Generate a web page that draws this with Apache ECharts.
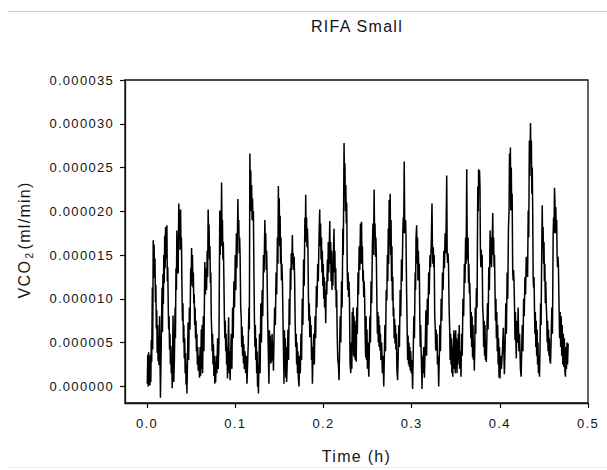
<!DOCTYPE html>
<html>
<head>
<meta charset="utf-8">
<script src="https://cdn.jsdelivr.net/npm/echarts@6/dist/echarts.min.js"></script>
<style>
html,body{margin:0;padding:0;background:#fff;}
#chart{width:607px;height:470px;}
#chart svg text{letter-spacing:1.3px;white-space:pre;}
</style>
</head>
<body>
<div id="chart"></div>
<script>
const chartTitle = 'RIFA Small';
const xName = 'Time (h)';
const xTicks = [0, 0.1, 0.2, 0.3, 0.4, 0.5];
const yTicks = [0, 0.000005, 0.000010, 0.000015, 0.000020, 0.000025, 0.000030, 0.000035];
// [time (h), VCO2 in nl/min (= 1e-6 ml/min)]
const vco2Points = [
[0.0003,0.3],[0.0008,3.6],[0.0013,0.0],[0.0018,3.9],[0.0023,0.2],[0.0028,3.3],[0.0033,0.1],[0.0038,3.6],[0.0043,0.5],[0.0048,5.3],[0.0053,2.8],
[0.0060,11.3],[0.0064,4.2],[0.0070,16.7],[0.0075,13.0],[0.0080,16.2],[0.0085,12.4],[0.0090,14.6],[0.0095,9.6],[0.0100,11.6],[0.0105,6.6],[0.0110,8.7],[0.0115,3.8],[0.0120,7.0],[0.0125,2.9],[0.0130,5.6],[0.0135,2.4],[0.0142,8.0],[0.0152,-1.3],[0.0160,4.2],
[0.0170,11.3],[0.0175,6.2],[0.0180,12.8],[0.0185,9.4],[0.0190,15.0],[0.0195,11.8],[0.0200,17.2],[0.0205,13.5],[0.0210,18.2],[0.0215,14.6],[0.0220,17.0],[0.0225,18.4],[0.0230,12.0],[0.0235,13.6],[0.0240,9.5],[0.0245,6.5],[0.0250,8.0],[0.0255,4.2],[0.0260,6.0],[0.0265,2.5],[0.0270,4.6],[0.0275,1.5],[0.0280,3.0],[0.0285,-0.2],[0.0295,8.1],[0.0303,0.5],[0.0310,3.0],
[0.0318,9.0],[0.0322,5.5],[0.0328,13.5],[0.0333,11.0],[0.0338,17.8],[0.0343,13.0],[0.0348,16.5],[0.0353,12.9],[0.0360,20.9],[0.0365,17.8],[0.0370,20.0],[0.0375,15.6],[0.0380,20.2],[0.0385,16.0],[0.0390,17.0],[0.0395,12.0],[0.0401,7.5],[0.0407,9.5],[0.0412,5.0],[0.0417,7.0],[0.0422,3.2],[0.0427,5.5],[0.0432,1.5],[0.0437,3.8],[0.0442,0.2],[0.0447,2.5],[0.0452,-0.8],[0.0457,1.8],
[0.0465,7.3],[0.0472,3.0],[0.0480,9.0],[0.0487,6.5],[0.0495,13.5],[0.0500,11.5],[0.0505,15.8],[0.0510,12.0],[0.0515,15.0],[0.0520,11.3],[0.0525,13.0],[0.0530,9.5],[0.0535,10.5],[0.0540,7.0],[0.0545,9.0],[0.0550,5.5],[0.0555,7.5],[0.0560,4.0],[0.0565,6.0],[0.0570,2.5],[0.0575,4.5],[0.0580,1.8],[0.0587,3.5],[0.0595,1.0],[0.0602,4.5],[0.0608,1.2],
[0.0615,6.5],[0.0620,2.0],[0.0625,7.0],[0.0630,1.5],[0.0638,8.0],[0.0645,4.0],[0.0655,14.2],[0.0662,10.5],[0.0668,13.5],[0.0675,11.0],[0.0682,15.5],[0.0687,12.5],[0.0693,20.2],[0.0698,17.5],[0.0703,18.5],[0.0708,14.5],[0.0713,16.0],[0.0718,11.8],[0.0723,13.0],[0.0728,8.0],[0.0733,6.4],[0.0738,4.0],[0.0743,6.0],[0.0748,2.5],[0.0753,4.8],[0.0758,1.2],[0.0763,3.5],[0.0768,0.3],[0.0773,2.8],[0.0778,0.5],[0.0785,3.5],
[0.0792,1.5],[0.0800,5.5],[0.0807,2.0],[0.0815,4.9],[0.0825,20.1],[0.0830,15.0],[0.0835,19.5],[0.0840,16.0],[0.0845,23.3],[0.0850,18.0],[0.0855,19.0],[0.0860,14.5],[0.0865,16.5],[0.0870,13.3],[0.0877,7.9],[0.0882,5.5],[0.0887,7.5],[0.0892,4.0],[0.0897,6.0],[0.0902,2.5],[0.0907,4.5],[0.0912,0.9],[0.0917,3.5],[0.0925,7.9],[0.0932,1.5],[0.0937,4.0],[0.0942,0.7],[0.0947,3.0],
[0.0955,6.0],[0.0962,2.0],[0.0970,9.0],[0.0977,5.5],[0.0985,12.0],[0.0992,9.0],[0.1000,15.0],[0.1007,11.0],[0.1013,17.5],[0.1018,13.5],[0.1023,16.0],[0.1030,21.4],[0.1035,17.5],[0.1040,19.0],[0.1045,15.2],[0.1050,17.0],[0.1055,15.0],[0.1062,9.0],[0.1068,7.9],[0.1073,4.5],[0.1078,6.8],[0.1083,3.5],[0.1088,5.8],[0.1093,2.6],[0.1098,4.8],[0.1103,2.0],[0.1110,4.0],[0.1118,1.5],[0.1125,3.5],[0.1133,0.3],[0.1140,2.5],
[0.1148,5.0],[0.1155,9.0],[0.1160,6.5],[0.1166,26.6],[0.1171,22.0],[0.1176,24.7],[0.1181,20.0],[0.1186,23.0],[0.1191,19.0],[0.1196,21.5],[0.1201,18.9],[0.1206,20.0],[0.1212,13.0],[0.1218,7.5],[0.1223,4.5],[0.1228,7.0],[0.1233,3.0],[0.1238,5.5],[0.1243,1.5],[0.1248,4.0],[0.1253,0.0],[0.1258,2.5],[0.1263,-0.8],[0.1268,2.0],
[0.1275,6.0],[0.1282,1.5],[0.1290,9.5],[0.1297,5.0],[0.1305,11.0],[0.1312,8.0],[0.1320,15.0],[0.1327,13.0],[0.1336,19.0],[0.1341,15.5],[0.1346,17.5],[0.1351,13.3],[0.1356,15.5],[0.1361,13.0],[0.1368,7.5],[0.1375,4.0],[0.1382,0.3],[0.1388,6.4],[0.1393,3.0],[0.1398,5.8],[0.1403,2.6],[0.1408,5.0],[0.1413,2.8],[0.1418,6.0],[0.1423,3.0],[0.1428,5.0],[0.1433,1.8],
[0.1440,5.5],[0.1447,9.0],[0.1455,7.0],[0.1463,13.0],[0.1470,10.5],[0.1478,17.0],[0.1484,14.0],[0.1489,22.9],[0.1494,18.0],[0.1499,21.5],[0.1504,16.0],[0.1509,19.5],[0.1514,14.0],[0.1519,17.0],[0.1524,12.1],[0.1529,14.0],[0.1535,12.0],[0.1542,7.2],[0.1548,3.5],[0.1553,0.3],[0.1558,6.4],[0.1563,2.5],[0.1568,5.5],[0.1573,1.0],[0.1578,4.5],[0.1583,0.5],[0.1590,3.0],
[0.1598,6.5],[0.1605,3.0],[0.1612,10.0],[0.1618,7.0],[0.1625,13.5],[0.1630,11.0],[0.1635,15.2],[0.1640,13.3],[0.1648,17.3],[0.1653,14.0],[0.1658,15.2],[0.1663,13.3],[0.1668,14.8],[0.1673,12.5],[0.1680,7.0],[0.1686,4.5],[0.1691,6.0],[0.1696,2.5],[0.1701,5.0],[0.1706,1.5],[0.1711,4.0],[0.1716,1.0],[0.1723,0.0],[0.1730,3.5],
[0.1738,1.5],[0.1745,6.0],[0.1752,3.0],[0.1760,10.0],[0.1767,7.0],[0.1775,14.5],[0.1782,11.5],[0.1790,19.3],[0.1795,16.5],[0.1799,21.9],[0.1804,17.0],[0.1809,19.3],[0.1814,15.9],[0.1819,18.0],[0.1824,15.9],[0.1830,10.2],[0.1835,7.5],[0.1840,9.5],[0.1845,5.6],[0.1850,8.0],[0.1855,5.6],[0.1860,7.0],[0.1865,3.0],[0.1870,4.5],[0.1875,0.3],[0.1882,3.5],
[0.1890,6.0],[0.1897,2.5],[0.1905,8.0],[0.1912,5.5],[0.1920,11.5],[0.1927,9.0],[0.1935,14.0],[0.1942,12.0],[0.1950,17.0],[0.1958,20.2],[0.1963,16.0],[0.1968,18.6],[0.1973,14.5],[0.1978,17.0],[0.1983,13.0],[0.1988,15.5],[0.1993,11.5],[0.1998,14.0],[0.2003,10.0],[0.2008,12.5],[0.2013,9.0],[0.2020,11.0],[0.2026,7.2],[0.2032,12.0],
[0.2038,10.5],[0.2045,14.5],[0.2050,12.0],[0.2055,16.5],[0.2060,13.0],[0.2066,15.9],[0.2072,18.9],[0.2077,14.0],[0.2082,16.5],[0.2087,12.0],[0.2092,15.5],[0.2097,11.0],[0.2102,14.0],[0.2107,11.5],[0.2112,15.0],[0.2120,18.0],[0.2125,13.0],[0.2130,15.5],[0.2135,11.0],[0.2140,13.5],[0.2145,9.0],[0.2150,11.0],[0.2156,6.0],[0.2163,3.0],[0.2170,2.5],[0.2177,0.7],[0.2183,4.0],
[0.2190,8.0],[0.2197,5.0],[0.2205,12.0],[0.2212,9.0],[0.2220,18.0],[0.2225,15.0],[0.2234,27.8],[0.2239,23.0],[0.2244,25.5],[0.2249,20.0],[0.2254,23.0],[0.2259,18.6],[0.2264,21.0],[0.2270,13.3],[0.2275,11.0],[0.2280,13.0],[0.2285,10.2],[0.2290,12.0],[0.2295,10.2],[0.2302,2.6],[0.2310,1.5],[0.2316,5.0],
[0.2322,2.0],[0.2327,8.5],[0.2332,4.0],[0.2337,9.0],[0.2342,3.5],[0.2347,8.0],[0.2352,3.3],[0.2357,7.5],[0.2362,3.0],[0.2367,7.0],[0.2372,2.8],[0.2378,9.0],[0.2385,6.0],[0.2392,13.0],[0.2398,10.5],[0.2405,16.0],[0.2412,13.3],[0.2420,18.6],[0.2426,14.0],[0.2432,18.8],[0.2437,14.0],[0.2442,16.0],[0.2447,12.0],[0.2452,13.3],[0.2457,10.2],[0.2462,12.0],[0.2467,10.2],[0.2473,6.0],[0.2479,3.3],[0.2484,8.0],[0.2489,3.0],[0.2494,6.5],[0.2499,2.0],[0.2504,5.0],[0.2509,2.5],[0.2515,1.1],[0.2520,4.0],
[0.2527,8.0],[0.2533,5.0],[0.2540,12.0],[0.2547,9.5],[0.2555,16.0],[0.2562,18.6],[0.2568,15.0],[0.2575,22.5],[0.2580,17.0],[0.2585,18.6],[0.2590,14.8],[0.2595,17.0],[0.2600,14.8],[0.2607,9.0],[0.2612,6.0],[0.2617,8.5],[0.2622,5.0],[0.2627,8.0],[0.2632,4.5],[0.2637,7.0],[0.2642,4.1],[0.2647,6.0],[0.2652,3.0],[0.2660,5.0],[0.2668,1.5],[0.2676,3.5],[0.2684,0.0],[0.2690,3.0],
[0.2697,7.0],[0.2704,4.0],[0.2712,11.0],[0.2719,9.8],[0.2725,15.0],[0.2730,12.0],[0.2735,18.0],[0.2740,14.0],[0.2745,21.3],[0.2750,16.0],[0.2757,22.0],[0.2762,15.0],[0.2767,19.0],[0.2772,12.0],[0.2777,16.0],[0.2782,9.8],[0.2787,12.5],[0.2792,8.0],[0.2797,9.0],[0.2802,5.5],[0.2807,7.7],[0.2812,4.9],[0.2817,7.0],[0.2822,4.2],[0.2827,6.0],[0.2833,2.0],[0.2841,0.7],[0.2848,3.5],
[0.2855,7.0],[0.2862,4.5],[0.2870,11.0],[0.2877,8.0],[0.2885,14.5],[0.2892,12.0],[0.2900,17.5],[0.2905,19.3],[0.2910,17.5],[0.2916,25.7],[0.2921,19.3],[0.2926,17.5],[0.2931,19.0],[0.2936,17.3],[0.2943,11.0],[0.2950,6.1],[0.2955,3.0],[0.2960,5.8],[0.2965,2.5],[0.2970,5.0],[0.2975,2.2],[0.2980,4.5],[0.2985,1.8],[0.2990,4.0],[0.2997,1.5],[0.3004,3.0],[0.3011,-0.3],[0.3017,3.0],
[0.3025,8.0],[0.3032,5.5],[0.3040,13.0],[0.3045,11.0],[0.3050,17.0],[0.3057,18.4],[0.3062,14.0],[0.3067,17.0],[0.3072,12.1],[0.3077,15.5],[0.3082,12.1],[0.3087,14.0],[0.3093,7.5],[0.3098,4.5],[0.3103,7.0],[0.3108,4.1],[0.3113,2.0],[0.3118,-0.3],[0.3123,3.5],
[0.3130,1.5],[0.3137,4.5],[0.3145,1.0],[0.3155,5.0],[0.3162,8.7],[0.3170,3.5],[0.3178,10.0],[0.3185,7.0],[0.3193,13.0],[0.3200,10.5],[0.3208,15.0],[0.3215,13.6],[0.3223,16.5],[0.3231,20.9],[0.3236,15.9],[0.3241,14.0],[0.3246,15.9],[0.3251,13.6],[0.3256,15.0],[0.3262,8.0],[0.3268,6.7],[0.3273,4.1],[0.3278,6.5],[0.3283,4.1],[0.3288,6.0],[0.3293,2.5],[0.3300,3.5],[0.3307,0.0],[0.3313,3.0],
[0.3320,7.0],[0.3327,4.0],[0.3335,10.0],[0.3342,7.5],[0.3350,13.0],[0.3357,11.0],[0.3365,15.5],[0.3372,13.5],[0.3380,17.5],[0.3388,15.2],[0.3398,24.1],[0.3403,15.2],[0.3408,14.1],[0.3413,15.2],[0.3418,14.1],[0.3425,9.0],[0.3432,6.4],[0.3437,3.0],[0.3442,6.0],[0.3447,2.5],[0.3452,5.5],[0.3457,1.5],[0.3462,4.5],[0.3467,1.1],[0.3472,4.0],
[0.3480,6.4],[0.3485,2.0],[0.3490,6.0],[0.3495,1.5],[0.3500,6.4],[0.3505,2.0],[0.3510,5.5],[0.3515,1.5],[0.3520,5.0],[0.3525,2.5],[0.3530,6.0],[0.3535,3.0],[0.3540,7.0],[0.3545,2.0],[0.3552,4.0],[0.3560,1.1],
[0.3567,6.0],[0.3574,3.5],[0.3582,10.0],[0.3590,8.0],[0.3598,14.0],[0.3605,11.8],[0.3612,17.0],[0.3618,14.0],[0.3625,24.8],[0.3630,17.0],[0.3635,14.5],[0.3640,17.0],[0.3645,11.8],[0.3650,14.0],[0.3655,10.6],[0.3660,11.8],[0.3666,8.7],[0.3671,5.5],[0.3676,8.5],[0.3681,4.5],[0.3686,8.0],[0.3691,3.3],[0.3696,7.0],[0.3701,3.0],[0.3706,5.0],[0.3711,1.8],[0.3716,4.5],
[0.3722,9.0],[0.3728,6.0],[0.3735,11.2],[0.3742,9.0],[0.3750,22.8],[0.3755,20.0],[0.3760,24.8],[0.3765,22.8],[0.3770,24.7],[0.3775,22.8],[0.3780,15.6],[0.3785,13.6],[0.3790,15.6],[0.3795,13.6],[0.3800,15.0],[0.3806,9.0],[0.3812,7.9],[0.3817,4.5],[0.3822,7.5],[0.3827,3.5],[0.3832,7.0],[0.3837,3.0],[0.3842,5.0],[0.3847,2.8],[0.3853,5.5],
[0.3860,9.5],[0.3867,6.5],[0.3875,13.6],[0.3882,11.0],[0.3890,17.8],[0.3895,14.0],[0.3900,17.0],[0.3905,13.6],[0.3912,16.0],[0.3920,19.8],[0.3925,15.0],[0.3930,17.0],[0.3935,13.6],[0.3940,15.0],[0.3946,10.6],[0.3951,7.5],[0.3956,10.0],[0.3961,5.5],[0.3966,8.5],[0.3971,4.0],[0.3976,7.0],[0.3981,2.5],[0.3986,5.5],[0.3991,1.0],[0.3996,4.5],[0.4002,0.9],[0.4008,3.5],[0.4018,2.0],[0.4030,4.0],[0.4040,6.7],[0.4052,1.4],[0.4060,4.5],
[0.4068,9.5],[0.4075,6.0],[0.4083,13.0],[0.4090,10.0],[0.4098,18.0],[0.4105,20.1],[0.4110,26.6],[0.4115,22.0],[0.4120,27.3],[0.4125,20.1],[0.4130,25.0],[0.4135,20.1],[0.4140,22.0],[0.4146,13.3],[0.4151,12.1],[0.4156,13.3],[0.4161,12.1],[0.4167,9.0],[0.4172,5.3],[0.4177,8.5],[0.4182,5.3],[0.4187,3.2],[0.4192,7.5],[0.4200,5.0],[0.4208,9.0],[0.4216,4.0],[0.4224,6.0],[0.4234,2.0],[0.4242,1.1],[0.4248,4.0],
[0.4255,7.0],[0.4262,4.0],[0.4270,10.0],[0.4277,8.0],[0.4285,12.5],[0.4292,10.5],[0.4300,14.8],[0.4305,12.5],[0.4310,14.8],[0.4315,12.5],[0.4322,20.1],[0.4328,17.0],[0.4335,28.1],[0.4340,24.0],[0.4348,30.1],[0.4353,26.0],[0.4358,28.1],[0.4363,22.0],[0.4368,25.0],[0.4373,20.1],[0.4378,12.5],[0.4383,11.3],[0.4388,12.5],[0.4393,9.0],[0.4398,6.0],[0.4403,8.5],[0.4408,4.5],[0.4413,7.5],[0.4418,3.5],[0.4423,6.5],[0.4428,2.5],[0.4433,5.0],[0.4438,1.5],[0.4444,3.5],[0.4450,1.1],[0.4456,4.5],
[0.4462,9.5],[0.4468,7.0],[0.4474,14.0],[0.4481,20.7],[0.4486,16.0],[0.4491,18.2],[0.4496,14.0],[0.4501,16.5],[0.4506,12.0],[0.4511,14.0],[0.4516,9.5],[0.4521,12.0],[0.4526,9.5],[0.4532,8.0],[0.4537,5.0],[0.4542,7.5],[0.4547,4.0],[0.4552,6.5],[0.4557,3.5],[0.4562,5.5],[0.4568,3.0],[0.4575,2.6],[0.4581,5.0],
[0.4590,9.0],[0.4597,6.0],[0.4605,17.5],[0.4610,19.3],[0.4615,17.5],[0.4620,22.7],[0.4625,21.3],[0.4630,17.5],[0.4635,20.5],[0.4640,17.5],[0.4645,19.0],[0.4650,14.8],[0.4655,13.6],[0.4660,14.8],[0.4665,13.6],[0.4672,9.0],[0.4678,5.5],[0.4684,8.5],[0.4690,4.5],[0.4696,8.0],[0.4702,3.5],[0.4708,7.0],[0.4714,2.5],[0.4720,6.0],[0.4726,2.2],[0.4732,5.5],[0.4738,1.8],[0.4744,1.1],[0.4750,4.5],[0.4756,2.0],[0.4762,5.0],[0.4768,2.5],[0.4775,4.9]
];

// convert nl/min to ml/min for the axis
const seriesData = vco2Points.map(p => [p[0], p[1] * 1e-6]);

const FONT = '"Liberation Sans", Arial, sans-serif';
const TXT = '#141414';

const chart = echarts.init(document.getElementById('chart'), null, {renderer: 'svg'});
chart.setOption({
  animation: false,
  backgroundColor: '#ffffff',
  title: {
    text: chartTitle,
    left: 352,
    textAlign: 'center',
    top: 13,
    textStyle: {fontFamily: FONT, fontSize: 16, fontWeight: 'normal', color: TXT}
  },
  graphic: [
    {type: 'line', silent: true, shape: {x1: 8, y1: 11.5, x2: 607, y2: 11.5}, style: {stroke: '#cccccc', lineWidth: 1}},
    {type: 'line', silent: true, shape: {x1: 8, y1: 467.5, x2: 607, y2: 467.5}, style: {stroke: '#eeeeee', lineWidth: 1}}
  ],
  grid: {
    left: 125, right: 19, top: 80, bottom: 67,
    show: true, borderColor: '#111', borderWidth: 1.3, backgroundColor: 'transparent'
  },
  xAxis: {
    type: 'value',
    min: -0.025, max: 0.5,
    name: xName,
    nameLocation: 'middle',
    nameGap: 45,
    nameTextStyle: {fontFamily: FONT, fontSize: 16, color: TXT},
    axisLine: {show: true, onZero: false, lineStyle: {color: '#111', width: 1.3}},
    axisTick: {show: true, inside: false, length: 5, customValues: xTicks, lineStyle: {color: '#111', width: 1.2}},
    axisLabel: {customValues: xTicks, margin: 14, fontFamily: FONT, fontSize: 13, color: TXT,
      formatter: v => v.toFixed(1)},
    splitLine: {show: false}
  },
  yAxis: {
    type: 'value',
    min: -0.0000019, max: 0.000035,
    name: '{a|VCO}{s|2}{n|(ml/min)}',
    nameLocation: 'middle',
    nameGap: 91,
    nameRotate: 90,
    nameTextStyle: {
      fontFamily: FONT, fontSize: 16, color: TXT,
      rich: {
        a: {fontFamily: FONT, fontSize: 16, color: TXT, lineHeight: 20, padding: [0, 4, 0, 0]},
        n: {fontFamily: FONT, fontSize: 16, color: TXT, lineHeight: 20, padding: [0, 0, 0, 8]},
        s: {fontFamily: FONT, fontSize: 10, color: TXT, lineHeight: 10, verticalAlign: 'bottom'}
      }
    },
    axisLine: {show: true, onZero: false, lineStyle: {color: '#111', width: 1.3}},
    axisTick: {show: true, inside: false, length: 5, customValues: yTicks, lineStyle: {color: '#111', width: 1.2}},
    axisLabel: {customValues: yTicks, margin: 11, fontFamily: FONT, fontSize: 13, color: TXT,
      formatter: v => v.toFixed(6)},
    splitLine: {show: false}
  },
  series: [{
    type: 'line',
    data: seriesData,
    showSymbol: false,
    symbol: 'none',
    sampling: false,
    lineStyle: {color: '#000', width: 1.5},
    emphasis: {disabled: true},
    z: 2
  }]
});
</script>
</body>
</html>
